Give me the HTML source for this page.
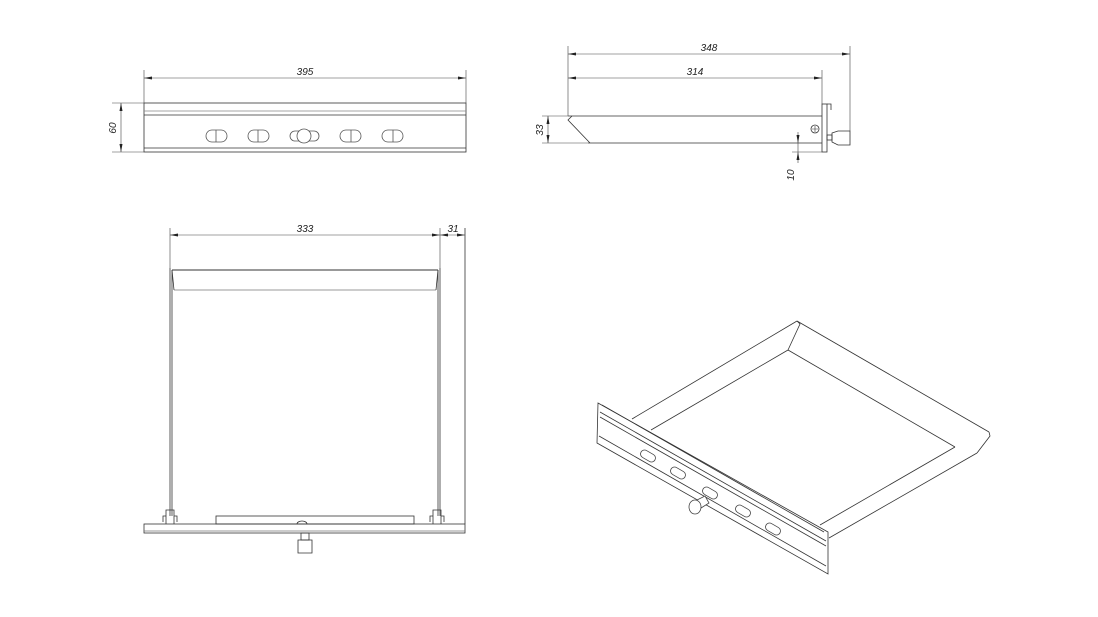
<!DOCTYPE html>
<html><head><meta charset="utf-8"><style>
html,body{margin:0;padding:0;background:#fff}
svg{display:block}
text{font-family:"Liberation Sans",sans-serif;font-size:10px;font-style:italic;fill:#222}
</style></head><body>
<svg width="1098" height="617" viewBox="0 0 1098 617" xmlns="http://www.w3.org/2000/svg">
<defs>
<marker id="a" markerWidth="8" markerHeight="6" refX="8" refY="3" orient="auto-start-reverse" markerUnits="userSpaceOnUse"><path d="M0,1.5 L8,3 L0,4.5Z" fill="#222"/></marker>
</defs>
<g fill="none" stroke="#333" stroke-width="0.8">
<!-- FRONT VIEW -->
<rect x="144" y="103" width="322" height="49"/>
<line x1="144" y1="111" x2="466" y2="111" stroke="#888"/>
<line x1="144" y1="115" x2="466" y2="115"/>
<line x1="144" y1="148" x2="466" y2="148"/>
<g stroke="#555">
<rect x="206" y="130" width="21" height="12" rx="6"/><line x1="216" y1="130" x2="216" y2="142"/>
<rect x="248" y="130" width="21" height="12" rx="6"/><line x1="258" y1="130" x2="258" y2="142"/>
<rect x="340" y="130" width="21" height="12" rx="6"/><line x1="351" y1="130" x2="351" y2="142"/>
<rect x="382" y="130" width="21" height="12" rx="6"/><line x1="393" y1="130" x2="393" y2="142"/>
<rect x="290" y="131" width="29" height="10" rx="5"/>
<circle cx="304" cy="136" r="7" fill="#fff"/>
</g>
<!-- dims front -->
<g stroke="#444" stroke-width="0.6">
<line x1="144" y1="70" x2="144" y2="103"/><line x1="466" y1="70" x2="466" y2="103"/>
<line x1="144" y1="78" x2="466" y2="78" marker-start="url(#a)" marker-end="url(#a)"/>
<line x1="112" y1="103" x2="144" y2="103"/><line x1="112" y1="152" x2="144" y2="152"/>
<line x1="121" y1="103" x2="121" y2="152" marker-start="url(#a)" marker-end="url(#a)"/>
</g>
<!-- SIDE VIEW -->
<line x1="568" y1="116" x2="822" y2="116"/>
<line x1="588" y1="143" x2="822" y2="143"/>
<polyline points="572,116 568,120 590,143"/>
<rect x="822" y="104" width="5" height="48"/>
<polyline points="827,104 831,104 831,110"/>
<circle cx="815" cy="129" r="4"/><path d="M812,129h6M815,126v6" stroke-width="0.6"/>
<rect x="827" y="135" width="5" height="5"/>
<path d="M832,133 L838,131 L850,131 L850,145 L838,145 L832,142Z"/>
<g stroke="#444" stroke-width="0.6">
<line x1="568" y1="46" x2="568" y2="116"/><line x1="850" y1="46" x2="850" y2="131"/><line x1="822" y1="70" x2="822" y2="104"/>
<line x1="568" y1="54" x2="850" y2="54" marker-start="url(#a)" marker-end="url(#a)"/>
<line x1="568" y1="78" x2="822" y2="78" marker-start="url(#a)" marker-end="url(#a)"/>
<line x1="542" y1="116" x2="568" y2="116"/><line x1="542" y1="143" x2="588" y2="143"/>
<line x1="548" y1="116" x2="548" y2="143" marker-start="url(#a)" marker-end="url(#a)"/>
<line x1="792" y1="152" x2="822" y2="152"/>
<line x1="798" y1="132" x2="798" y2="143" marker-end="url(#a)"/>
<line x1="798" y1="163" x2="798" y2="152" marker-end="url(#a)"/>
<line x1="798" y1="143" x2="798" y2="152"/>
</g>
<!-- TOP VIEW -->
<line x1="172" y1="270" x2="438" y2="270" stroke-width="1"/>
<line x1="174" y1="290" x2="436" y2="290" stroke="#777"/>
<line x1="172" y1="270" x2="174" y2="290"/><line x1="438" y1="270" x2="436" y2="290"/>
<line x1="170" y1="268" x2="170" y2="516"/><line x1="172" y1="270" x2="172" y2="516"/>
<line x1="440" y1="268" x2="440" y2="516"/><line x1="438" y1="270" x2="438" y2="516"/>
<line x1="465" y1="228" x2="465" y2="524"/>
<rect x="144" y="524" width="321" height="9"/>
<line x1="144" y1="531" x2="465" y2="531" stroke="#777"/>
<rect x="216" y="516" width="198" height="8"/>
<path d="M297,524 a5,3 0 0 1 10,0"/>
<rect x="301" y="533" width="8" height="7"/>
<path d="M298,540 h14 v13 h-14 Z"/>
<path d="M166,524 v-14 h8 v14 M166,516 h-3 v6 M174,516 h3 v6"/>
<path d="M433,524 v-14 h8 v14 M433,516 h-3 v6 M441,516 h3 v6"/>
<g stroke="#444" stroke-width="0.6">
<line x1="170" y1="228" x2="170" y2="268"/><line x1="440" y1="228" x2="440" y2="268"/>
<line x1="170" y1="235" x2="440" y2="235" marker-start="url(#a)" marker-end="url(#a)"/>
<line x1="440" y1="235" x2="465" y2="235" marker-start="url(#a)" marker-end="url(#a)"/>
</g>
<!-- ISO VIEW -->
<path d="M598,403 L828,532 L828,574 L597,443 Z" fill="#fff"/>
<line x1="602" y1="405" x2="824" y2="532"/>
<line x1="600" y1="412" x2="826" y2="541"/>
<line x1="600" y1="417" x2="826" y2="546"/>
<line x1="599" y1="436" x2="826" y2="566"/>
<line x1="632" y1="419" x2="797" y2="321"/>
<line x1="651" y1="430" x2="788" y2="350"/>
<path d="M797,321 L800,324 L788,350"/>
<line x1="797" y1="321" x2="989" y2="432"/>
<line x1="788" y1="350" x2="955" y2="447"/>
<path d="M989,432 L990,436 L977,453"/>
<line x1="955" y1="447" x2="820" y2="525"/>
<line x1="977" y1="453" x2="829" y2="538"/>
<g stroke="#444">
<rect x="640" y="452" width="16" height="8" rx="4" transform="rotate(30 648 456)"/>
<rect x="670" y="469" width="16" height="8" rx="4" transform="rotate(30 678 473)"/>
<rect x="702" y="489" width="16" height="8" rx="4" transform="rotate(30 710 493)"/>
<rect x="735" y="507" width="16" height="8" rx="4" transform="rotate(30 743 511)"/>
<rect x="765" y="525" width="16" height="8" rx="4" transform="rotate(30 773 529)"/>
<path d="M697,500 L705,496 L709,503 L701,508Z" fill="#fff"/>
<ellipse cx="695" cy="507" rx="6" ry="7" fill="#fff"/>
</g>
</g>
<text x="305" y="75" text-anchor="middle">395</text>
<text transform="translate(116,128) rotate(-90)" text-anchor="middle">60</text>
<text x="709" y="51" text-anchor="middle">348</text>
<text x="695" y="75" text-anchor="middle">314</text>
<text transform="translate(543,130) rotate(-90)" text-anchor="middle">33</text>
<text transform="translate(794,175) rotate(-90)" text-anchor="middle">10</text>
<text x="305" y="232" text-anchor="middle">333</text>
<text x="453" y="232" text-anchor="middle">31</text>
</svg>
</body></html>
